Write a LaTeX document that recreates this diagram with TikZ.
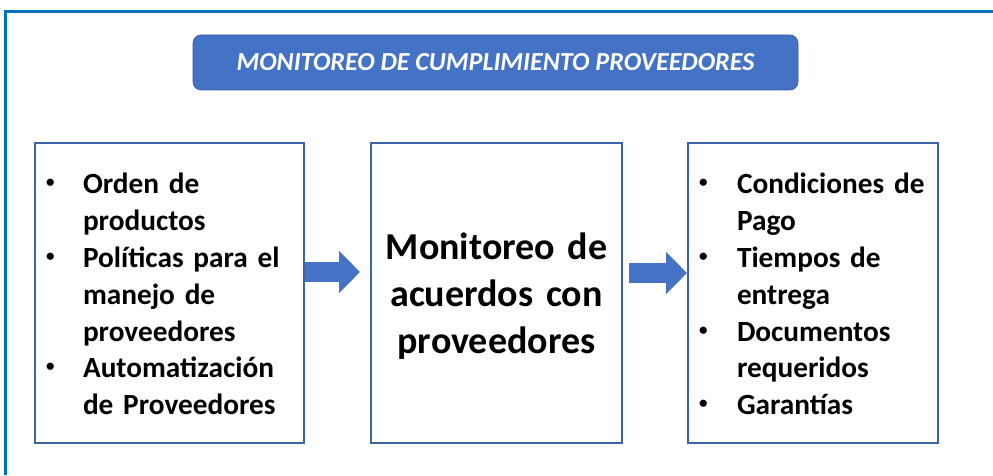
\documentclass[tikz,border=0pt]{standalone}
\usepackage{fontspec}
\setmainfont{Carlito}
\usetikzlibrary{arrows.meta}
\usetikzlibrary{positioning}

\definecolor{frameblue}{HTML}{0070C0}
\definecolor{titleblue}{HTML}{4472C4}
\definecolor{boxblue}{HTML}{3C62A8}

\tikzset{
  listbox/.style={draw=boxblue, line width=2pt, minimum height=300pt,
    inner xsep=9pt, inner ysep=0pt, text width=251pt, align=left,
    font=\bfseries\fontsize{29.3}{36.8}\selectfont},
  midbox/.style={draw=boxblue, line width=2pt, minimum height=300pt,
    inner xsep=0pt, inner ysep=0pt, text width=251pt, align=center,
    font=\bfseries\fontsize{38}{47}\selectfont},
  titlebox/.style={fill=titleblue, draw=titleblue!80!black, line width=0.6pt,
    rounded corners=8pt, minimum width=605pt, minimum height=55pt,
    text=white, font=\bfseries\itshape\fontsize{26}{30}\selectfont},
  blockarrow/.style={draw=titleblue, line width=20pt,
    -{Triangle[length=21pt, width=41pt]}}
}

\newcommand{\bul}{\hspace*{2pt}\raisebox{6pt}{\fontsize{17}{17}\selectfont\textbullet}}
\newcommand{\dropbox}[1]{\raisebox{-4pt}[\height][\depth]{#1}}

\begin{document}
\begin{tikzpicture}[x=1pt, y=1pt]
  \useasboundingbox (0,0) rectangle (993,475);
  % outer frame
  \draw[frameblue, line width=3pt] (5,0) -- (5,463) -- (993,463);

  \node[titlebox] (Title) at (495.5,412.5) {MONITOREO DE CUMPLIMIENTO PROVEEDORES};

  \node[listbox, text width=251pt] (Inputs) at (169.5,182) {\dropbox{%
    \begin{tabular}{@{}p{39pt}@{}l@{}}
      \bul & Orden de \\
           & productos \\
      \bul & Políticas para el \\
           & manejo de \\
           & proveedores \\
      \bul & Automatización \\
           & de Proveedores
    \end{tabular}}};
  \node[midbox] (Monitor) at (496.5,182) {\dropbox{\begin{tabular}{@{}c@{}}Monitoreo de\\ acuerdos con\\ proveedores\end{tabular}}};
  \node[listbox, text width=232pt] (Outputs) at (813,182) {\dropbox{%
    \begin{tabular}{@{}p{40pt}@{}l@{}}
      \bul & Condiciones de \\
           & Pago \\
      \bul & Tiempos de \\
           & entrega \\
      \bul & Documentos \\
           & requeridos \\
      \bul & Garantías
    \end{tabular}}};

  \draw[blockarrow, shorten >=10pt] ([yshift=21pt]Inputs.east) -- ([yshift=21pt]Monitor.west);
  \draw[blockarrow, shorten <=6pt] ([yshift=20pt]Monitor.east) -- ([yshift=20pt]Outputs.west);
\end{tikzpicture}
\end{document}
